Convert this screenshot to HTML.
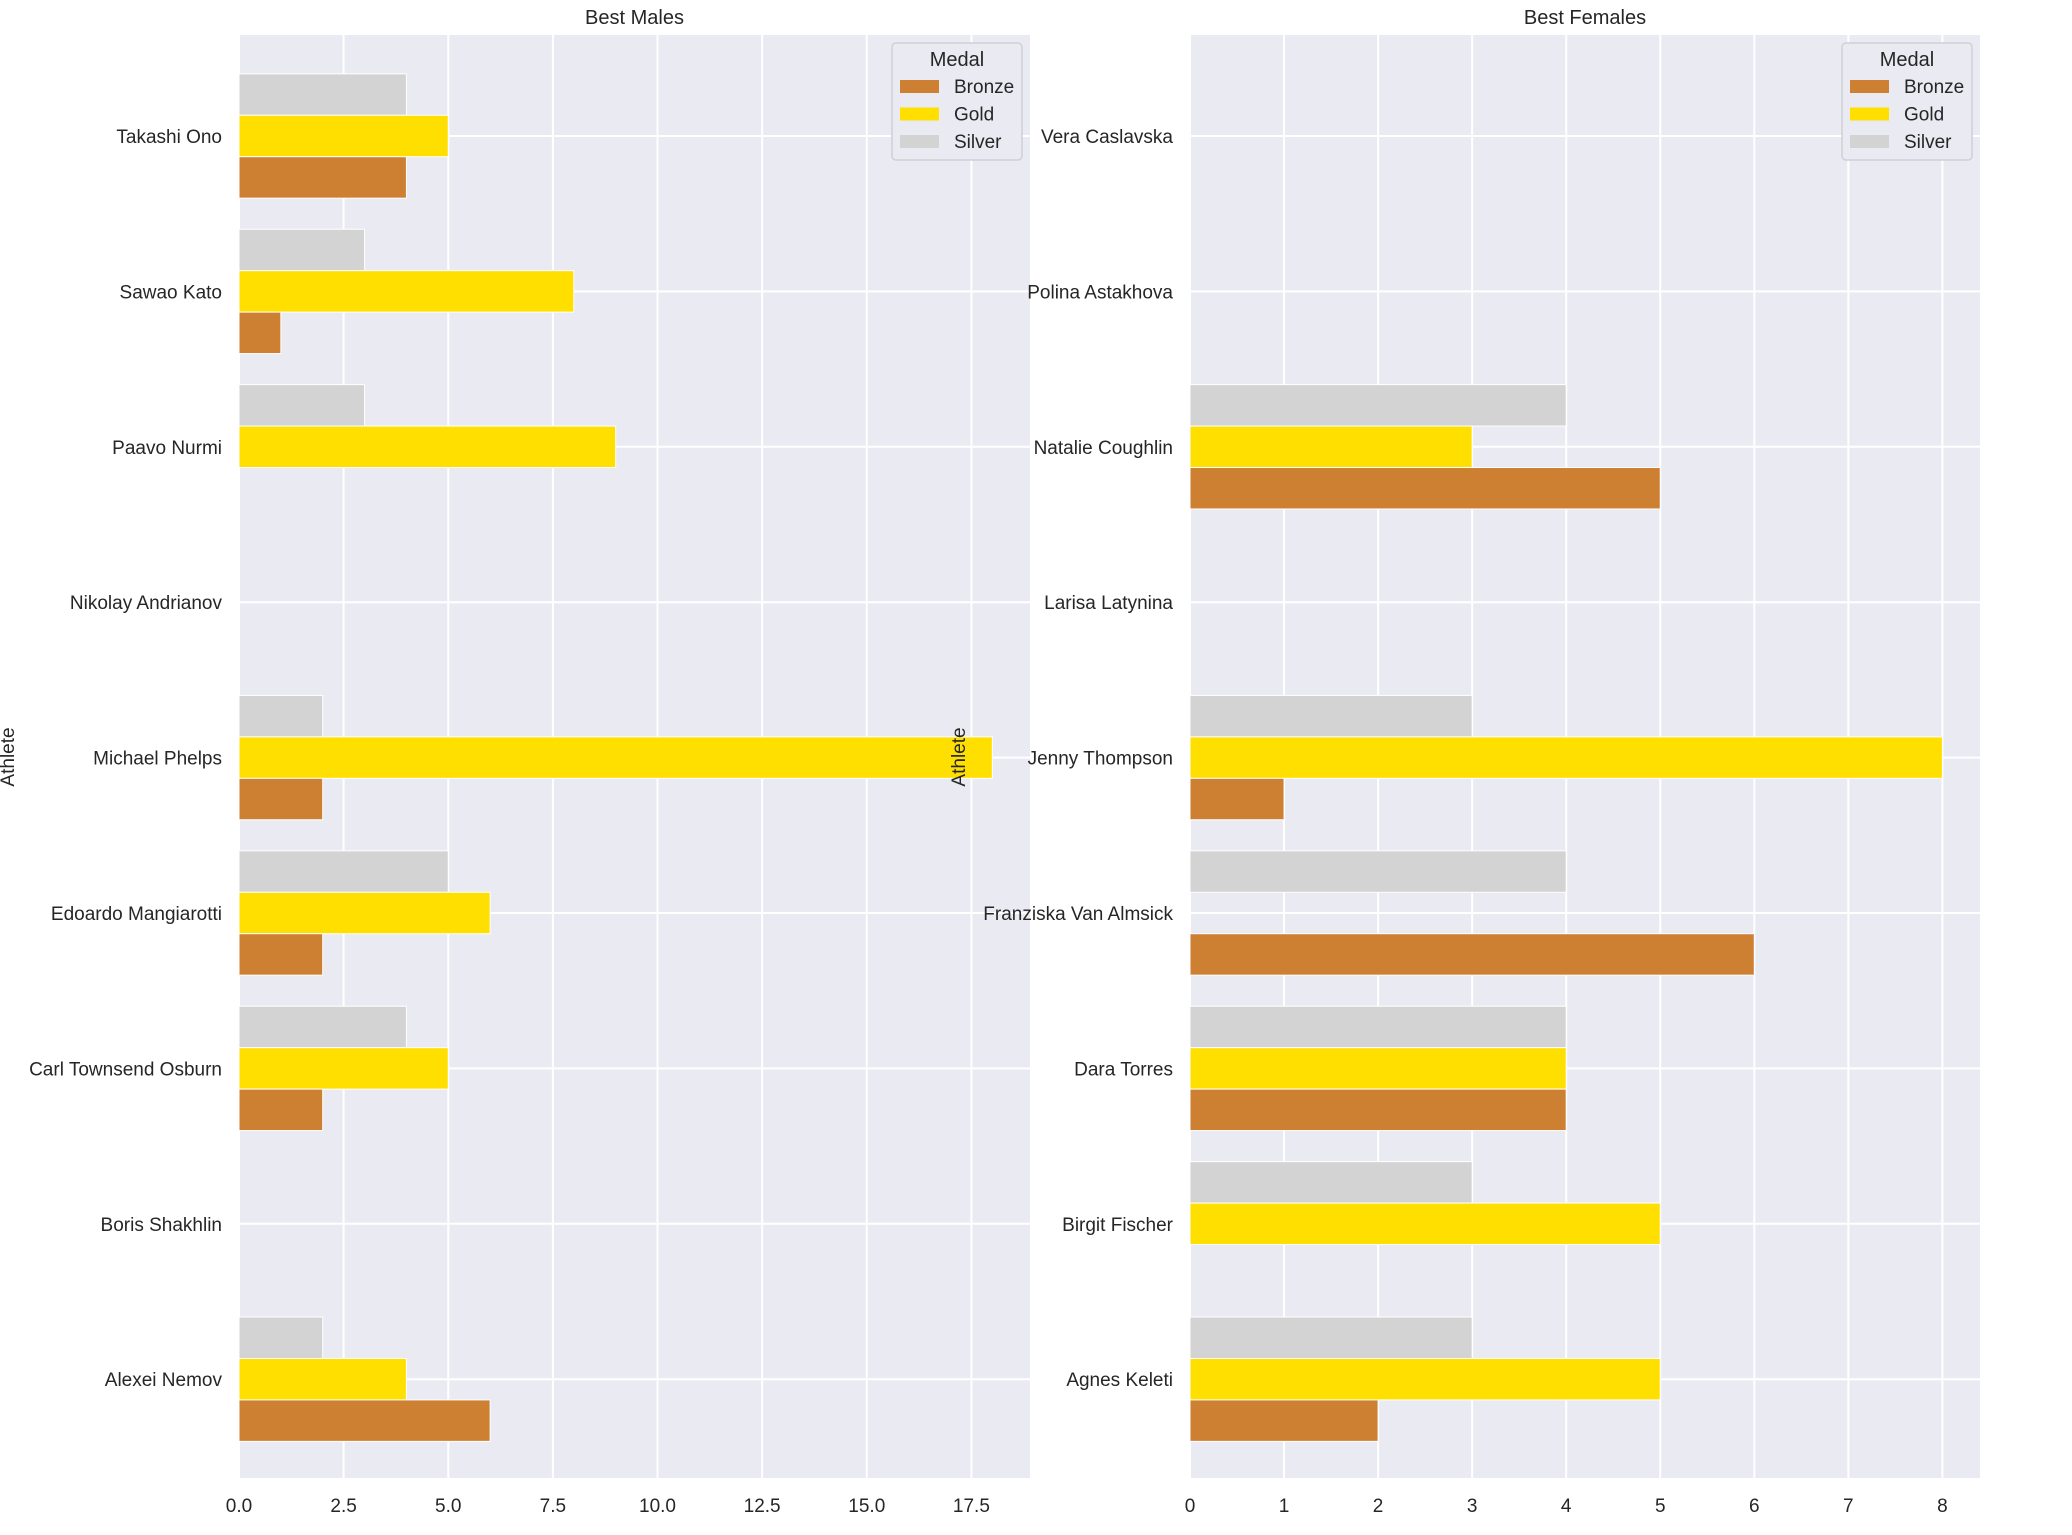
<!DOCTYPE html>
<html><head><meta charset="utf-8">
<style>
html,body{margin:0;padding:0;background:#fff;}
svg text{font-family:"Liberation Sans",sans-serif;fill:#262626;}
</style></head>
<body>
<svg id="chart" width="2072" height="1530" xmlns="http://www.w3.org/2000/svg"></svg>
<script>
const maleAthletes = ["Takashi Ono","Sawao Kato","Paavo Nurmi","Nikolay Andrianov","Michael Phelps","Edoardo Mangiarotti","Carl Townsend Osburn","Boris Shakhlin","Alexei Nemov"];
const maleBronze = [4,1,0,0,2,2,2,0,6];
const maleGold   = [5,8,9,0,18,6,5,0,4];
const maleSilver = [4,3,3,0,2,5,4,0,2];
const maleTicks = [0,2.5,5,7.5,10,12.5,15,17.5];
const maleTickLabels = ["0.0","2.5","5.0","7.5","10.0","12.5","15.0","17.5"];

const femaleAthletes = ["Vera Caslavska","Polina Astakhova","Natalie Coughlin","Larisa Latynina","Jenny Thompson","Franziska Van Almsick","Dara Torres","Birgit Fischer","Agnes Keleti"];
const femaleBronze = [0,0,5,0,1,6,4,0,2];
const femaleGold   = [0,0,3,0,8,0,4,5,5];
const femaleSilver = [0,0,4,0,3,4,4,3,3];
const femaleTicks = [0,1,2,3,4,5,6,7,8];
const femaleTickLabels = ["0","1","2","3","4","5","6","7","8"];

const NS="http://www.w3.org/2000/svg";
const svg=document.getElementById('chart');
function mk(tag,attrs,parent){const e=document.createElementNS(NS,tag);for(const k in attrs)e.setAttribute(k,attrs[k]);(parent||svg).appendChild(e);return e;}
const COL={Bronze:"#CD7F32",Gold:"#FFDF00",Silver:"#D3D3D3"};
const TOP=35,BOT=1478,C0=136,STEP=155.4,BH=STEP*0.8/3;

function panel(key,x0,x1,xmax,title,athletes,bronze,gold,silver,ticks,tickLabels){
  const g=mk('g',{});
  
  
  const sx=v=>x0+(v/xmax)*(x1-x0);
  const cy=i=>C0+STEP*i;
  const bg=mk('rect',{x:x0,y:TOP,width:x1-x0,height:BOT-TOP,fill:"#EAEAF2"},g);
  
  
  ticks.forEach((t,i)=>{
    const l=mk('line',{x1:sx(t),x2:sx(t),y1:TOP,y2:BOT,stroke:"#fff","stroke-width":2},g);
    
    
    const tx=mk('text',{x:sx(t),y:1512,"text-anchor":"middle","font-size":19},g);
    tx.textContent=tickLabels[i];
    
    
  });
  athletes.forEach((a,i)=>{
    const l=mk('line',{x1:x0,x2:x1,y1:cy(i),y2:cy(i),stroke:"#fff","stroke-width":2},g);
    
    
    const tx=mk('text',{x:x0-17,y:cy(i)+7,"text-anchor":"end","font-size":19},g);
    tx.textContent=a;
    
    
    [[silver,"Silver",-1],[gold,"Gold",0],[bronze,"Bronze",1]].forEach(([arr,m,o])=>{
      if(arr[i]<=0)return;
      const r=mk('rect',{x:x0,y:cy(i)+o*BH-BH/2,width:sx(arr[i])-x0,height:BH,fill:COL[m],stroke:"#fff","stroke-width":1},g);
      
      
    });
  });
  const t=mk('text',{x:(x0+x1)/2,y:24,"text-anchor":"middle","font-size":20},g);
  t.textContent=title;
  
  
  const yl=mk('text',{x:0,y:0,"text-anchor":"middle","font-size":19,transform:`translate(${x0-225},757) rotate(-90)`},g);
  yl.textContent="Athlete";
  
  
  const lx=x1-138,ly=43;
  const lg=mk('g',{},g);
  
  
  mk('rect',{x:lx,y:ly,width:130,height:117,rx:4,fill:"#EAEAF2",stroke:"#cfcfd6","stroke-width":1.5},lg);
  const lt=mk('text',{x:lx+65,y:ly+23,"text-anchor":"middle","font-size":20},lg);
  lt.textContent="Medal";
  ["Bronze","Gold","Silver"].forEach((m,j)=>{
    const e=mk('g',{},lg);
    
    
    mk('rect',{x:lx+8,y:ly+37+j*27.5,width:39,height:13,fill:COL[m]},e);
    const tt=mk('text',{x:lx+62,y:ly+50+j*27.5,"font-size":19},e);
    tt.textContent=m;
  });
}
panel('males',239,1030,18.9,"Best Males",maleAthletes,maleBronze,maleGold,maleSilver,maleTicks,maleTickLabels);
panel('females',1190,1980,8.4,"Best Females",femaleAthletes,femaleBronze,femaleGold,femaleSilver,femaleTicks,femaleTickLabels);
</script>
</body></html>
